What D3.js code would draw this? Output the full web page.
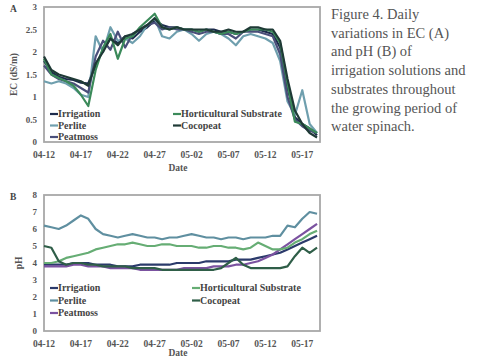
<!DOCTYPE html>
<html>
<head>
<meta charset="utf-8">
<script src="https://cdn.jsdelivr.net/npm/d3@7"></script>
<style>
  body { margin: 0; background: #fff; }
  svg text { font-family: "Liberation Serif", "DejaVu Serif", serif; }
</style>
</head>
<body>
<div id="chart"></div>
<script>
// day-by-day dates, 04-12 .. 05-19
const dates = ["04-12","04-13","04-14","04-15","04-16","04-17","04-18","04-19","04-20","04-21",
  "04-22","04-23","04-24","04-25","04-26","04-27","04-28","04-29","04-30","05-01",
  "05-02","05-03","05-04","05-05","05-06","05-07","05-08","05-09","05-10","05-11",
  "05-12","05-13","05-14","05-15","05-16","05-17","05-18","05-19"];
const tickLabels = ["04-12","04-17","04-22","04-27","05-02","05-07","05-12","05-17"];
const seriesNames = ["Irrigation","Perlite","Peatmoss","Horticultural Substrate","Cocopeat"];

// EC (dS/m)
const ecIrrigation = [1.80,1.55,1.45,1.40,1.38,1.32,1.30,1.70,2.05,2.30,2.20,2.35,2.30,2.45,2.55,2.70,2.60,2.55,2.55,2.50,2.50,2.45,2.50,2.50,2.45,2.45,2.40,2.45,2.50,2.50,2.45,2.40,2.10,1.20,0.55,0.40,0.30,0.15];
const ecPerlite = [1.35,1.30,1.35,1.30,1.20,1.05,1.00,2.35,2.00,2.55,2.25,2.30,2.20,2.35,2.60,2.75,2.35,2.30,2.45,2.50,2.40,2.25,2.40,2.45,2.40,2.30,2.15,2.35,2.40,2.35,2.30,2.20,1.80,0.90,0.60,1.15,0.40,0.20];
const ecPeatmoss = [1.70,1.50,1.40,1.35,1.30,1.20,1.10,1.90,2.25,2.05,2.45,2.10,2.40,2.50,2.60,2.65,2.50,2.55,2.50,2.50,2.45,2.40,2.45,2.45,2.40,2.40,2.30,2.45,2.45,2.45,2.40,2.35,1.95,1.00,0.50,0.35,0.25,0.20];
const ecHorticultural = [1.85,1.50,1.42,1.35,1.25,1.05,0.80,1.60,2.10,2.40,1.85,2.30,2.35,2.55,2.70,2.85,2.55,2.50,2.55,2.50,2.50,2.45,2.50,2.45,2.40,2.45,2.40,2.45,2.50,2.50,2.50,2.45,2.20,1.30,0.45,0.40,0.30,0.20];
const ecCocopeat = [1.90,1.60,1.50,1.45,1.40,1.35,1.25,1.75,2.00,2.30,2.15,2.35,2.40,2.50,2.60,2.75,2.55,2.50,2.55,2.50,2.50,2.50,2.50,2.45,2.45,2.50,2.45,2.45,2.55,2.55,2.50,2.50,2.25,1.40,0.70,0.40,0.20,0.10];

// pH
const phIrrigation = [3.9,3.9,3.9,3.9,4.0,4.0,4.0,3.9,3.9,3.9,3.8,3.8,3.8,3.9,3.9,3.9,3.9,3.9,4.0,4.0,4.0,4.0,4.1,4.1,4.1,4.1,4.2,4.2,4.2,4.3,4.4,4.5,4.6,4.8,5.0,5.2,5.4,5.6];
const phPerlite = [6.2,6.1,6.0,6.2,6.5,6.8,6.6,6.0,5.7,5.6,5.5,5.6,5.7,5.6,5.5,5.5,5.4,5.5,5.5,5.6,5.7,5.6,5.5,5.5,5.4,5.5,5.5,5.4,5.5,5.5,5.5,5.6,5.6,6.2,6.1,6.6,7.0,6.9];
const phPeatmoss = [3.8,3.8,3.8,3.8,3.9,3.9,3.8,3.8,3.8,3.7,3.7,3.7,3.7,3.6,3.6,3.6,3.6,3.6,3.6,3.7,3.7,3.7,3.7,3.8,3.8,3.8,3.9,3.9,4.0,4.1,4.3,4.5,4.8,5.1,5.4,5.7,6.0,6.3];
const phHorticultural = [4.0,4.0,4.1,4.3,4.4,4.5,4.6,4.8,4.9,5.0,5.1,5.1,5.2,5.1,5.0,5.0,5.1,5.1,5.0,5.0,5.0,4.9,4.9,5.0,5.0,4.9,4.9,4.8,4.9,5.2,5.0,4.8,4.8,4.9,5.2,5.4,5.7,5.9];
const phCocopeat = [5.0,4.9,4.1,3.9,4.0,4.0,3.9,3.9,3.8,3.8,3.8,3.8,3.7,3.7,3.7,3.7,3.6,3.6,3.6,3.6,3.6,3.6,3.6,3.6,3.7,4.0,4.3,3.9,3.7,3.7,3.7,3.7,3.7,3.8,4.4,4.9,4.6,4.9];

const ecTicks = [0, 0.5, 1, 1.5, 2, 2.5, 3];
const phTicks = [0, 1, 2, 3, 4, 5, 6, 7, 8];

const ecColors = ["#1d2b4c", "#6f9fae", "#4a4f7a", "#3b8a5a", "#1f3a36"];
const phColors = ["#2b3a6b", "#5f8fa0", "#7b52a0", "#66ad74", "#2f5e48"];

const svg = d3.select("#chart").append("svg")
    .attr("width", 478)
    .attr("height", 359);

// one panel: EC or pH
function drawPanel(cfg) {
    const x = d3.scaleLinear().domain([0, 37.4]).range([44, 320]);
    const y = d3.scaleLinear().domain(cfg.domain).range([cfg.bottom, cfg.top]);
    const g = svg.append("g");

    g.append("rect")
        .attr("x", 44).attr("y", cfg.top)
        .attr("width", 276).attr("height", cfg.bottom - cfg.top)
        .attr("fill", "#fff")
        .attr("stroke", "#a8a8a8")
        .attr("stroke-width", 1.8);

    // y axis labels
    g.selectAll(".ytick")
        .data(cfg.ticks)
        .join("text")
        .attr("class", "ytick")
        .attr("x", 37)
        .attr("y", d => y(d) + 3)
        .attr("text-anchor", "end")
        .attr("font-size", 9)
        .attr("font-weight", "bold")
        .attr("fill", "#555")
        .text(d => d);

    // x axis labels
    g.selectAll(".xtick")
        .data(tickLabels)
        .join("text")
        .attr("class", "xtick")
        .attr("x", d => x(dates.indexOf(d)))
        .attr("y", cfg.bottom + 16)
        .attr("text-anchor", "middle")
        .attr("font-size", 9.5)
        .attr("font-weight", "bold")
        .attr("fill", "#555")
        .text(d => d);

    g.append("text")
        .attr("x", 178).attr("y", cfg.bottom + cfg.dateGap)
        .attr("text-anchor", "middle")
        .attr("font-size", 9.5)
        .attr("font-weight", "bold")
        .attr("fill", "#555")
        .text("Date");

    g.append("text")
        .attr("transform", "translate(" + cfg.yLabelX + "," + ((cfg.top + cfg.bottom) / 2) + ") rotate(-90)")
        .attr("text-anchor", "middle")
        .attr("font-size", 9.5)
        .attr("font-weight", "bold")
        .attr("fill", "#555")
        .text(cfg.yLabel);

    g.append("text")
        .attr("x", 10).attr("y", cfg.top + 5)
        .attr("font-size", 9.5)
        .attr("font-weight", "bold")
        .attr("fill", "#444")
        .text(cfg.letter);

    const line = d3.line()
        .x((d, i) => x(i))
        .y(d => y(d))
        .curve(d3.curveLinear);

    g.selectAll(".series")
        .data(cfg.series)
        .join("path")
        .attr("class", "series")
        .attr("fill", "none")
        .attr("stroke", (d, i) => cfg.colors[i])
        .attr("stroke-width", 2.2)
        .attr("stroke-linejoin", "round")
        .attr("d", d => line(d));

    // legend inside plot
    const legendPos = [
        [50, cfg.legendY], [50, cfg.legendY + cfg.legendGap], [50, cfg.legendY + 2 * cfg.legendGap],
        [cfg.legendX2, cfg.legendY], [cfg.legendX2, cfg.legendY + cfg.legendGap]
    ];
    seriesNames.forEach((name, i) => {
        const [lx, ly] = legendPos[i];
        g.append("line")
            .attr("x1", lx).attr("x2", lx + 8)
            .attr("y1", ly - 3).attr("y2", ly - 3)
            .attr("stroke", cfg.colors[i])
            .attr("stroke-width", 2.2);
        g.append("text")
            .attr("x", lx + 8).attr("y", ly)
            .attr("font-size", 10)
            .attr("font-weight", "bold")
            .attr("fill", "#444")
            .text(name);
    });
}

drawPanel({
    top: 7, bottom: 142, domain: [0, 3], ticks: ecTicks,
    series: [ecIrrigation, ecPerlite, ecPeatmoss, ecHorticultural, ecCocopeat],
    colors: ecColors, yLabel: "EC (dS/m)", yLabelX: 17, letter: "A",
    legendY: 117, legendGap: 11.5, legendX2: 173, dateGap: 29
});

drawPanel({
    top: 195, bottom: 331, domain: [0, 8], ticks: phTicks,
    series: [phIrrigation, phPerlite, phPeatmoss, phHorticultural, phCocopeat],
    colors: phColors, yLabel: "pH", yLabelX: 22, letter: "B",
    legendY: 291, legendGap: 12.5, legendX2: 192, dateGap: 25
});

// caption
const caption = ["Figure 4. Daily", "variations in EC (A)", "and pH (B) of",
    "irrigation solutions and", "substrates throughout", "the growing period of", "water spinach."];
svg.append("g").selectAll("text")
    .data(caption)
    .join("text")
    .attr("x", 331)
    .attr("y", (d, i) => 19 + i * 18.7)
    .attr("font-size", 14.5)
    .attr("fill", "#555")
    .text(d => d);
</script>
</body>
</html>
